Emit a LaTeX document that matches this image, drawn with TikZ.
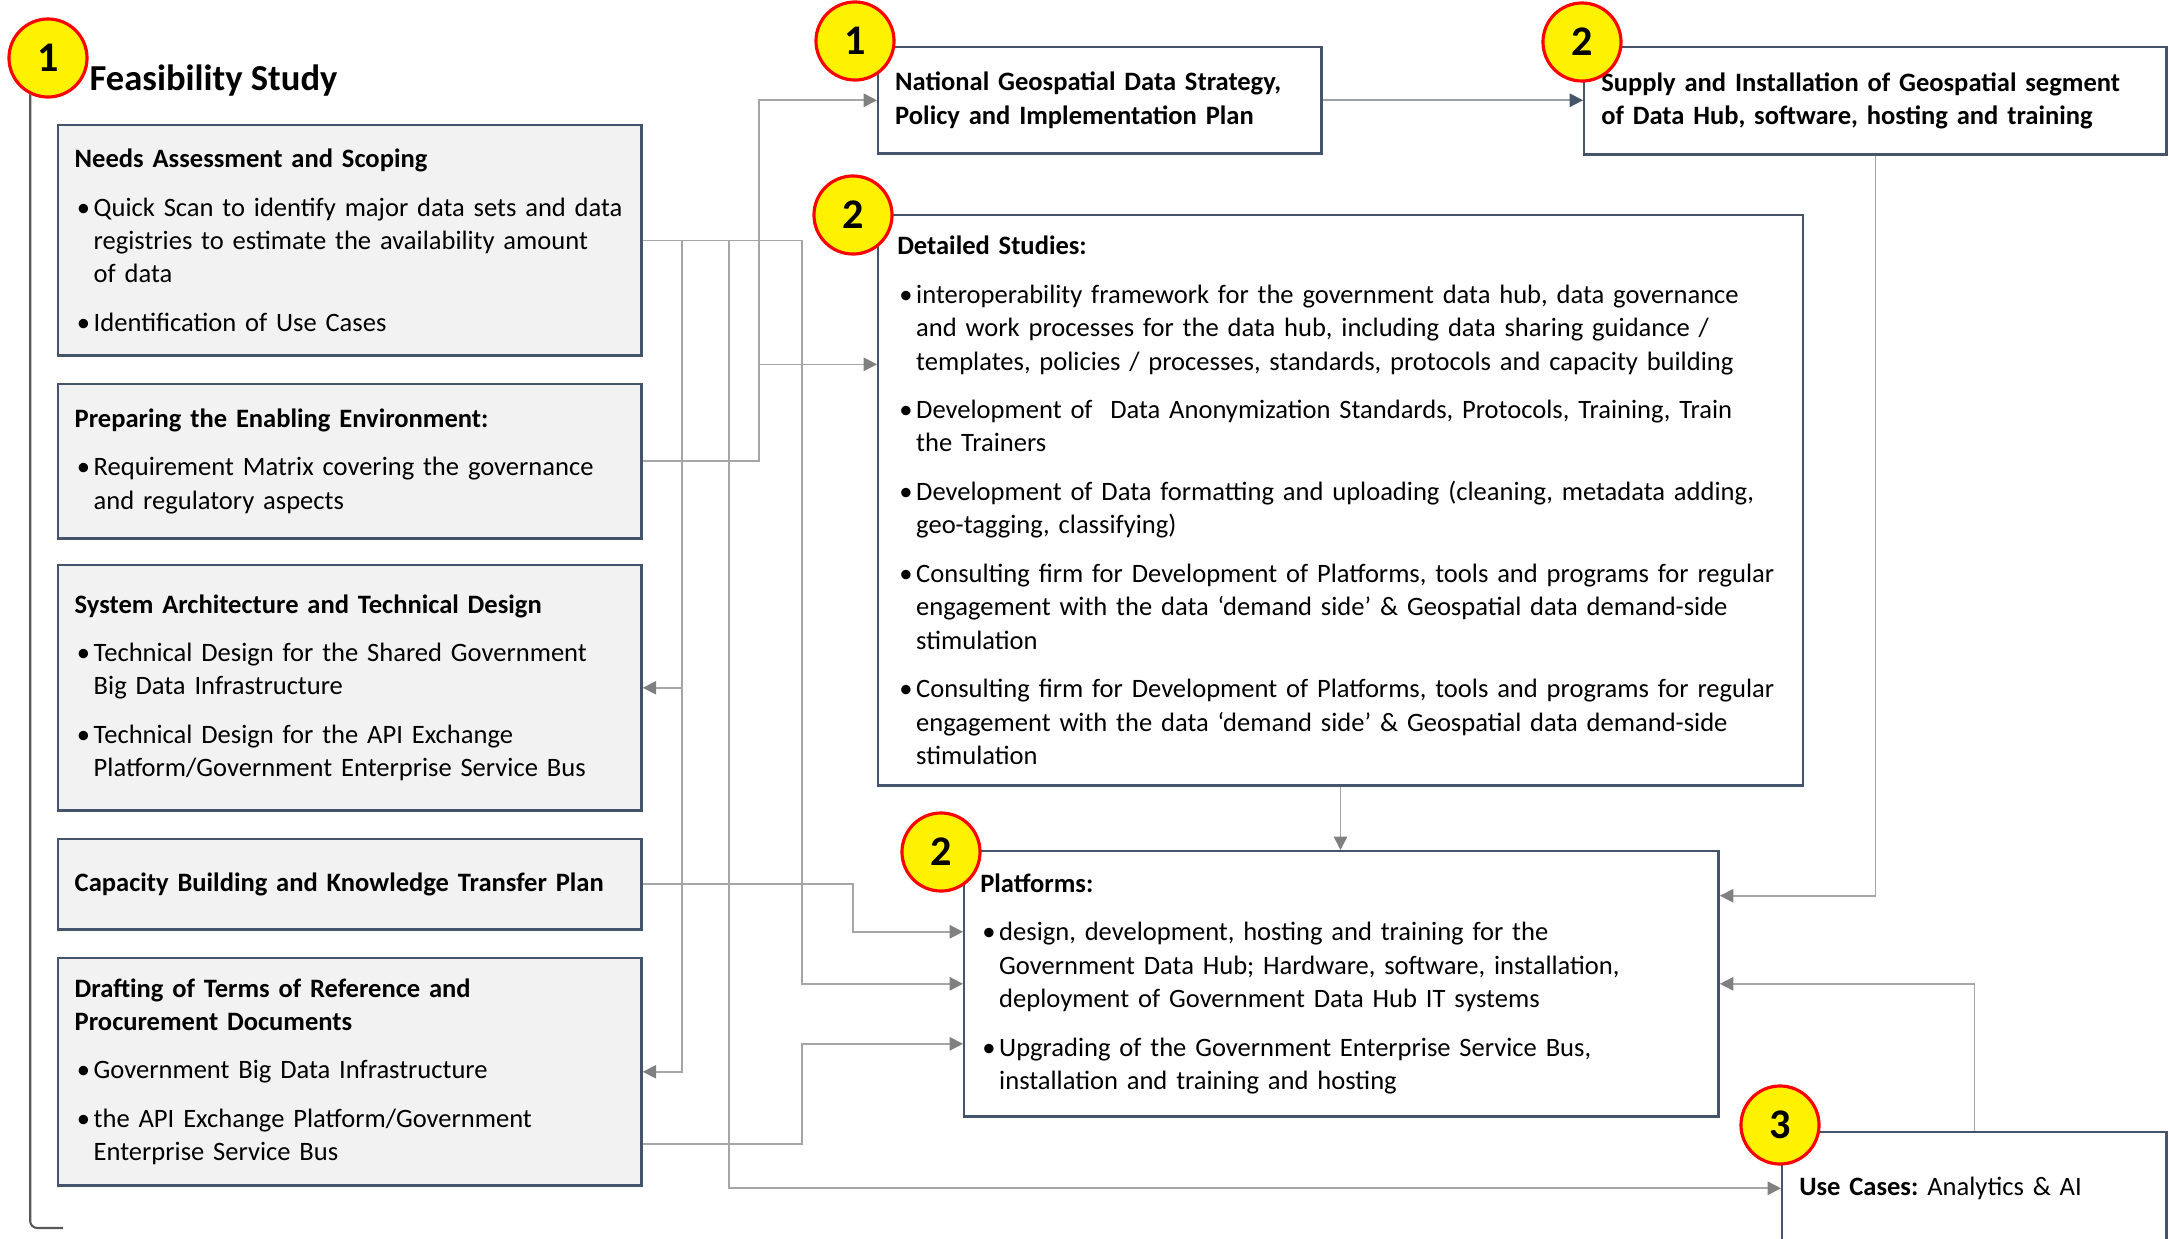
\documentclass[tikz,border=0pt]{standalone}
\usepackage{fontspec}
\setmainfont{Carlito}
\usetikzlibrary{arrows.meta,positioning}

\definecolor{slate}{HTML}{44546A}
\definecolor{boxgray}{HTML}{F2F2F2}
\definecolor{linkgray}{HTML}{A6A6A6}
\definecolor{tipgray}{HTML}{808080}
\definecolor{bracketgray}{HTML}{595959}

\frenchspacing
\newcommand\bodyfont{\fontsize{7.55}{9.5}\selectfont\hyphenpenalty=10000\exhyphenpenalty=10000}
\newcommand\itm[1]{\par\vspace{4.3pt}\rightskip=0pt plus 2em minus 4pt\hangindent=5.4pt\hangafter=1\noindent\hbox to 5.4pt{\hskip0.6pt\textbullet\hss}#1\par}

\tikzset
{
    graybox/.style  = {rectangle, draw=slate, line width=0.7pt, fill=boxgray, anchor=north west, align=left, inner xsep=0.165cm, inner ysep=0pt, text width=5.50cm, minimum width=5.83cm, font=\bodyfont},
    whitebox/.style = {rectangle, draw=slate, line width=0.7pt, fill=white, anchor=north west, align=left, inner xsep=0.17cm, inner ysep=0pt, font=\bodyfont},
    badge/.style    = {circle, draw=red, fill=yellow, line width=0.9pt, minimum size=0.78cm, inner sep=0pt, font=\fontsize{12}{14}\selectfont\bfseries},
    link/.style     = {draw=linkgray, line width=0.45pt, -{Triangle[length=3.8pt, width=3.8pt, color=tipgray]}},
    mainlink/.style = {draw=slate!55, line width=0.6pt, -{Triangle[length=3.8pt, width=3.8pt, color=slate]}},
    bracket/.style  = {draw=bracketgray, line width=0.6pt, rounded corners=2pt}
}

\begin{document}
\begin{tikzpicture}[x=0.01cm, y=-0.01cm]

   \useasboundingbox (0,0) rectangle (2169,1239);

   %% feasibility study column
   \node (needs)     [graybox, minimum height=2.30cm]   at (57,124)   {\textbf{Needs Assessment and Scoping}\itm{Quick Scan to identify major data sets and data\newline registries to estimate the availability amount\newline of data}\itm{Identification of Use Cases}};
   \node (prep)      [graybox, minimum height=1.54cm]   at (57,383)   {\textbf{Preparing the Enabling Environment:}\itm{Requirement Matrix covering the governance\newline and regulatory aspects}};
   \node (sysarch)   [graybox, minimum height=2.45cm]   at (57,564)   {\textbf{System Architecture and Technical Design}\itm{Technical Design for the Shared Government\newline Big Data Infrastructure}\itm{Technical Design for the API Exchange\newline Platform/Government Enterprise Service Bus}};
   \node (capacity)  [graybox, minimum height=0.90cm]   at (57,838)   {\textbf{Capacity Building and Knowledge Transfer Plan}};
   \node (drafting)  [graybox, minimum height=2.27cm]   at (57,957)   {\textbf{Drafting of Terms of Reference and\newline Procurement Documents}\itm{Government Big Data Infrastructure}\itm{the API Exchange Platform/Government\newline Enterprise Service Bus}};

   %% implementation column
   \node (strategy)  [whitebox, text width=4.09cm, minimum width=4.43cm, minimum height=1.06cm]   at (877,46)    {\textbf{National Geospatial Data Strategy,\newline Policy and Implementation Plan}};
   \node (supply)    [whitebox, text width=5.48cm, minimum width=5.82cm, minimum height=1.07cm]   at (1583,46)   {\textbf{Supply and Installation of Geospatial segment\newline of Data Hub, software, hosting and training}};
   \node (studies)   [whitebox, inner xsep=0.19cm, text width=8.86cm, minimum width=9.24cm, minimum height=5.70cm]   at (877,214)   {\textbf{Detailed Studies:}\itm{interoperability framework for the government data hub, data governance\newline and work processes for the data hub, including data sharing guidance /\newline templates, policies / processes, standards, protocols and capacity building}\itm{Development of~ Data Anonymization Standards, Protocols, Training, Train\newline the Trainers}\itm{Development of Data formatting and uploading (cleaning, metadata adding,\newline geo-tagging, classifying)}\itm{Consulting firm for Development of Platforms, tools and programs for regular\newline engagement with the data ‘demand side’ \& Geospatial data demand-side\newline stimulation}\itm{Consulting firm for Development of Platforms, tools and programs for regular\newline engagement with the data ‘demand side’ \& Geospatial data demand-side\newline stimulation}};
   \node (platforms) [whitebox, inner xsep=0.16cm, text width=7.22cm, minimum width=7.54cm, minimum height=2.65cm]   at (963,850)   {\textbf{Platforms:}\itm{design, development, hosting and training for the\newline Government Data Hub; Hardware, software, installation,\newline deployment of Government Data Hub IT systems}\itm{Upgrading of the Government Enterprise Service Bus,\newline installation and training and hosting}};
   \node (usecases)  [whitebox, text width=3.50cm, minimum width=3.84cm, minimum height=1.12cm]   at (1781,1131) {\textbf{Use Cases:} Analytics \& AI};

   %% bus lines between the columns
   \coordinate (busA) at (682,0);
   \coordinate (busB) at (729,0);
   \coordinate (busC) at (759,0);
   \coordinate (busD) at (802,0);
   \coordinate (busE) at (853,0);

   \draw[link] (needs.east) -- (needs.east -| busA) |- (sysarch.east);
   \draw[link] (needs.east -| busA) |- (drafting.east);
   \draw[link] (needs.east) -- (needs.east -| busB) |- (usecases.west);
   \draw[link] (needs.east) -- (needs.east -| busD) |- (platforms.west);
   \draw[link] (prep.east) -- (prep.east -| busC) |- (strategy.west);
   \draw[link] (prep.east -| busC) |- ([yshift=1.36cm]studies.west);
   \draw[link] (capacity.east) -- (capacity.east -| busE) |- ([yshift=0.52cm]platforms.west);
   \draw[link] ([yshift=-0.72cm]drafting.east) -- ([yshift=-0.72cm]drafting.east -| busD) |- ([yshift=-0.6cm]platforms.west);
   \draw[link] (studies.south) -- (studies.south |- platforms.north);
   \draw[link] (supply.south) |- ([yshift=0.88cm]platforms.east);
   \draw[link] (usecases.north) |- (platforms.east);
   \draw[mainlink] (strategy.east) -- (strategy.east -| supply.west);

   %% badges
   \node (b1fs) [badge]   at (48,58)                                       {1};
   \node (b1ns) [badge]   at ([shift=({-22,-5})]strategy.north west)      {1};
   \node (b2su) [badge]   at ([shift=({-1,-4})]supply.north west)         {2};
   \node (b2ds) [badge]   at ([shift=({-24,1})]studies.north west)        {2};
   \node (b2pl) [badge]   at ([shift=({-22,2})]platforms.north west)      {2};
   \node (b3uc) [badge]   at ([shift=({-1,-6})]usecases.north west)       {3};

   \node (fstitle) [anchor=base west, inner sep=0pt, font=\fontsize{10.4}{12}\selectfont\bfseries] at ([shift=({41,32})]b1fs.center) {Feasibility Study};

   \coordinate (fsend) at (63,1228);
   \draw[bracket] (b1fs.244) |- (fsend);

\end{tikzpicture}
\end{document}
